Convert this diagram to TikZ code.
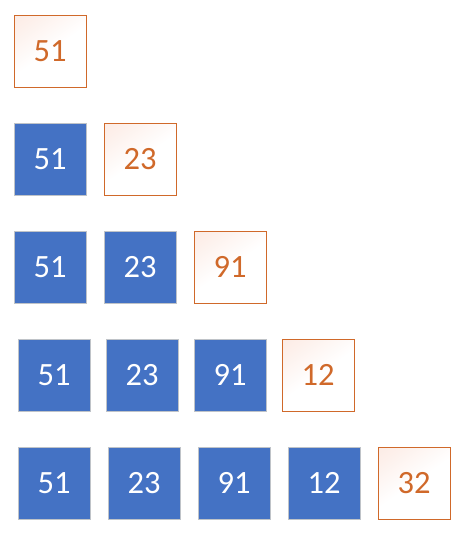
\documentclass[tikz,border=0pt]{standalone}
\usepackage{fontspec}
\setmainfont{Carlito}
\usetikzlibrary{shadings}
\definecolor{boxblue}{HTML}{4472C4}
\definecolor{boxgray}{HTML}{BFC3C8}
\definecolor{curorange}{HTML}{D0692A}
\definecolor{curpink}{HTML}{FBE4DB}
\pgfdeclareverticalshading{curfade}{100bp}{color(0bp)=(white); color(50bp)=(white); color(75bp)=(curpink!55); color(100bp)=(curpink)}
\begin{document}
\begin{tikzpicture}[x=1pt,y=-1pt,
  cell/.style={minimum width=72pt,minimum height=72pt,inner sep=0pt,anchor=north west,font=\fontsize{32.5}{32.5}\selectfont,line width=1pt},
  done/.style={cell,fill=boxblue,draw=boxgray,text=white},
  cur/.style={cell,draw=curorange,text=curorange,shading=curfade,shading angle=35}]
\useasboundingbox (0,0) rectangle (466,536);
% row 1
\node[cur] (a1) at (13.5,14.5) {51};
% row 2
\node[done] (b1) at (13.5,122.5) {51};
\node[cur] (b2) at (103.5,122.5) {23};
% row 3
\node[done] (c1) at (13.5,230.5) {51};
\node[done] (c2) at (103.5,230.5) {23};
\node[cur] (c3) at (193.5,230.5) {91};
% row 4
\node[done] (d1) at (17.5,338.5) {51};
\node[done] (d2) at (105.5,338.5) {23};
\node[done] (d3) at (193.5,338.5) {91};
\node[cur] (d4) at (281.5,338.5) {12};
% row 5
\node[done] (e1) at (17.5,446.5) {51};
\node[done] (e2) at (107.5,446.5) {23};
\node[done] (e3) at (197.5,446.5) {91};
\node[done] (e4) at (287.5,446.5) {12};
\node[cur] (e5) at (377.5,446.5) {32};
\end{tikzpicture}
\end{document}
